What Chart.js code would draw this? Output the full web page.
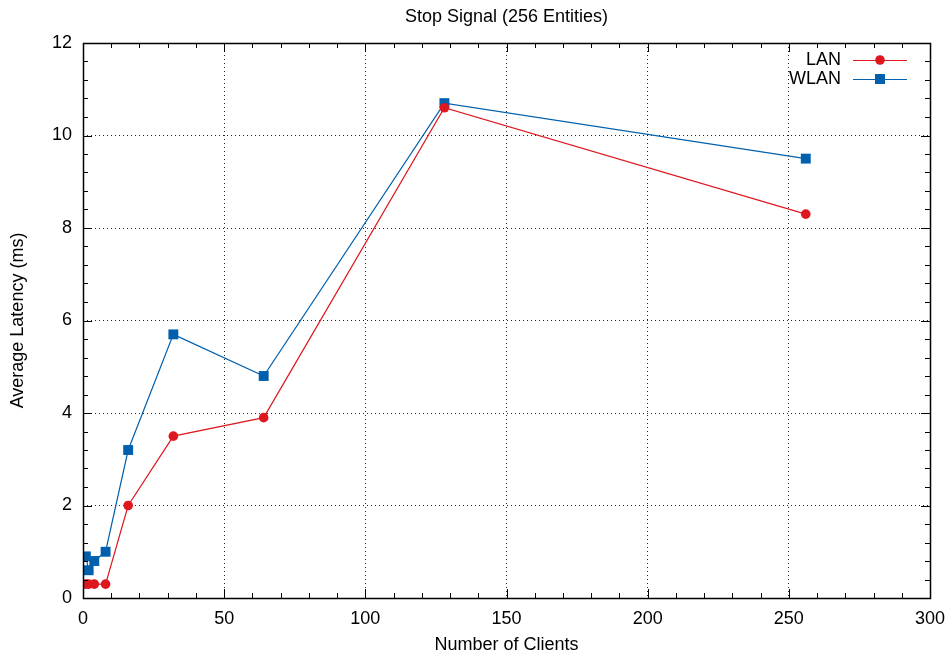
<!DOCTYPE html>
<html lang="en">
<head>
    <meta charset="UTF-8">
    <title>Stop Signal (256 Entities)</title>
    <script src="https://cdn.jsdelivr.net/npm/chart.js"></script>
    <style>
        html, body { margin: 0; padding: 0; background: #fff; }
        #wrap { width: 951px; height: 660px; }
    </style>
</head>
<body>
    <div id="wrap"><canvas id="chart" width="951" height="660"></canvas></div>
    <script>
        // data
        const clients = [1, 2, 4, 8, 16, 32, 64, 128, 256];
        const lanLatency = [0.3, 0.3, 0.3, 0.3, 2.0, 3.5, 3.9, 10.6, 8.3];
        const wlanLatency = [0.9, 0.6, 0.8, 1.0, 3.2, 5.7, 4.8, 10.7, 9.5];
        const xTicks = [0, 50, 100, 150, 200, 250, 300];
        const yTicks = [0, 2, 4, 6, 8, 10, 12];

        const FONT = 'Liberation Sans, Arial, Helvetica, sans-serif';
        const FS = 18;
        const RED = '#dd181f';
        const BLUE = '#0060ad';

        function pts(ys) {
            return clients.map((x, i) => ({ x: x, y: ys[i] }));
        }

        // gnuplot style frame, inward ticks and legend
        const framePlugin = {
            id: 'frame',
            afterDatasetsDraw(chart) {
                const ctx = chart.ctx;
                const a = chart.chartArea;
                const xs = chart.scales.x, ys = chart.scales.y;
                ctx.save();
                ctx.strokeStyle = '#000';
                ctx.lineWidth = 1;
                ctx.beginPath();
                // x ticks: minor every 10, major every 50
                for (let v = 0; v <= 300; v += 10) {
                    const px = Math.round(xs.getPixelForValue(v)) + 0.5;
                    const len = v % 50 === 0 ? 9 : 5;
                    ctx.moveTo(px, a.bottom); ctx.lineTo(px, a.bottom - len);
                    ctx.moveTo(px, a.top); ctx.lineTo(px, a.top + len);
                }
                // y ticks: minor every 0.4, major every 2
                for (let k = 0; k <= 30; k++) {
                    const v = k * 0.4;
                    const py = Math.round(ys.getPixelForValue(v)) + 0.5;
                    const len = k % 5 === 0 ? 9 : 5;
                    ctx.moveTo(a.left, py); ctx.lineTo(a.left + len, py);
                    ctx.moveTo(a.right, py); ctx.lineTo(a.right - len, py);
                }
                ctx.stroke();
                ctx.lineWidth = 1.5;
                ctx.strokeRect(Math.round(a.left) + 0.5, Math.round(a.top) + 0.5,
                    Math.round(a.right - a.left), Math.round(a.bottom - a.top));

                // legend
                ctx.font = FS + 'px ' + FONT;
                ctx.textAlign = 'right';
                ctx.textBaseline = 'middle';
                chart.data.datasets.forEach((ds, i) => {
                    const y = 60 + i * 19;
                    ctx.fillStyle = '#000';
                    ctx.fillText(ds.label, 841, y);
                    ctx.strokeStyle = ds.borderColor;
                    ctx.lineWidth = 1.2;
                    ctx.beginPath();
                    ctx.moveTo(853, y + 0.5); ctx.lineTo(907, y + 0.5);
                    ctx.stroke();
                    ctx.fillStyle = ds.backgroundColor;
                    ctx.beginPath();
                    if (ds.pointStyle === 'rect') {
                        ctx.rect(875, y - 5, 10, 10);
                    } else {
                        ctx.arc(880, y, 4.8, 0, Math.PI * 2);
                    }
                    ctx.fill();
                });
                ctx.restore();
            }
        };

        new Chart(document.getElementById('chart'), {
            type: 'line',
            data: {
                datasets: [{
                    label: 'LAN',
                    data: pts(lanLatency),
                    borderColor: RED,
                    backgroundColor: RED,
                    borderWidth: 1.2,
                    pointStyle: 'circle',
                    pointRadius: 4.8,
                    pointBorderWidth: 0,
                    tension: 0
                }, {
                    label: 'WLAN',
                    data: pts(wlanLatency),
                    borderColor: BLUE,
                    backgroundColor: BLUE,
                    borderWidth: 1.2,
                    pointStyle: 'rect',
                    pointRadius: 7,
                    pointBorderWidth: 0,
                    tension: 0
                }]
            },
            options: {
                responsive: false,
                animation: false,
                layout: { padding: { left: 0, right: 21, top: 0, bottom: 0 } },
                plugins: {
                    legend: { display: false },
                    tooltip: { enabled: false },
                    title: {
                        display: true,
                        text: 'Stop Signal (256 Entities)',
                        fullSize: false,
                        color: '#000',
                        font: { family: FONT, size: FS, weight: 'normal' },
                        padding: { top: 6, bottom: 15.4 }
                    }
                },
                scales: {
                    x: {
                        type: 'linear',
                        min: 0,
                        max: 300,
                        afterBuildTicks: s => { s.ticks = xTicks.map(v => ({ value: v })); },
                        afterFit: s => { s.height = 62; s.paddingLeft = 0; s.paddingRight = 0; },
                        grid: { color: 'rgba(0,0,0,0.85)', lineWidth: 1, drawTicks: false },
                        border: { display: false, dash: [1, 3] },
                        ticks: { color: '#000', padding: 10, maxRotation: 0, font: { family: FONT, size: FS } },
                        title: {
                            display: true,
                            text: 'Number of Clients',
                            color: '#000',
                            font: { family: FONT, size: FS },
                            padding: { top: 0, bottom: 4 }
                        }
                    },
                    y: {
                        type: 'linear',
                        min: 0,
                        max: 12,
                        afterBuildTicks: s => { s.ticks = yTicks.map(v => ({ value: v })); },
                        afterFit: s => { s.width = 83; },
                        grid: { color: 'rgba(0,0,0,0.85)', lineWidth: 1, drawTicks: false },
                        border: { display: false, dash: [1, 3] },
                        ticks: { color: '#000', padding: 11, font: { family: FONT, size: FS } },
                        title: {
                            display: true,
                            text: 'Average Latency (ms)',
                            color: '#000',
                            font: { family: FONT, size: FS },
                            padding: { top: 7, bottom: 0 }
                        }
                    }
                }
            },
            plugins: [framePlugin]
        });
    </script>
</body>
</html>
